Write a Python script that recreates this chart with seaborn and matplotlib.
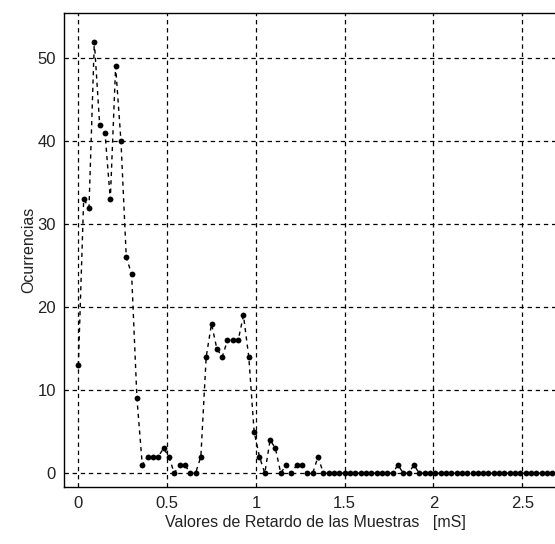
import numpy as np
import pandas as pd
import matplotlib
matplotlib.use("Agg")
import matplotlib.pyplot as plt
import seaborn as sns

# Histogram of sample delays: one count per 0.03 ms bin
bin_width_ms = 0.03
counts = [
    13, 33, 32, 52, 42, 41, 33, 49, 40, 26,   # 0.00 - 0.27
    24, 9, 1, 2, 2, 2, 3, 2, 0, 1,            # 0.30 - 0.57
    1, 0, 0, 2, 14, 18, 15, 14, 16, 16,       # 0.60 - 0.87
    16, 19, 14, 5, 2, 0, 4, 3, 0, 1,          # 0.90 - 1.17
    0, 1, 1, 0, 0, 2, 0, 0, 0, 0,             # 1.20 - 1.47
    0, 0, 0, 0, 0, 0, 0, 0, 0, 0,             # 1.50 - 1.77
    1, 0, 0, 1, 0, 0, 0, 0, 0, 0,             # 1.80 - 2.07
    0, 0, 0, 0, 0, 0, 0, 0, 0, 0,             # 2.10 - 2.37
    0, 0, 0, 0, 0, 0, 0, 0, 0, 0,             # 2.40 - 2.67
    0, 0,                                     # 2.70 - 2.73
]
x_ticks = [0, 0.5, 1, 1.5, 2, 2.5]
x_tick_labels = ["0", "0.5", "1", "1.5", "2", "2.5"]
y_ticks = [0, 10, 20, 30, 40, 50]

delays = np.arange(len(counts)) * bin_width_ms
df = pd.DataFrame({"retardo": delays, "ocurrencias": counts})

sns.set_style("white")
plt.rcParams["font.family"] = ["Liberation Sans", "DejaVu Sans"]

fig = plt.figure(figsize=(5.55, 5.44), dpi=100)
# axes run past the right edge of the figure
ax = fig.add_axes([0.1159, 0.1042, 0.905, 0.8713])

sns.lineplot(
    data=df, x="retardo", y="ocurrencias", ax=ax,
    color="black", linestyle=(0, (3, 3)), linewidth=1.0,
    marker="o", markersize=4.2, markeredgewidth=0, markerfacecolor="black",
)

ax.set_xlim(-0.079, 2.75)
ax.set_ylim(-1.7, 55.4)
ax.set_xticks(x_ticks)
ax.set_xticklabels(x_tick_labels)
ax.set_yticks(y_ticks)

ax.grid(True, color="black", linestyle=(0, (3.5, 3)), linewidth=0.9)
ax.set_axisbelow(True)
for side in ["left", "bottom", "top", "right"]:
    ax.spines[side].set_color("black")
    ax.spines[side].set_linewidth(1.0)

ax.tick_params(axis="both", direction="in", length=4, width=1,
               colors="black", labelsize=12, labelcolor="#222222")
ax.tick_params(axis="x", pad=6)
ax.tick_params(axis="y", pad=6)

ax.set_xlabel("Valores de Retardo de las Muestras   [mS]", fontsize=11.5,
              color="#222222", labelpad=3)
ax.set_ylabel("Ocurrencias", fontsize=11.5, color="#222222", labelpad=1)

fig.savefig("out.png", dpi=100)
